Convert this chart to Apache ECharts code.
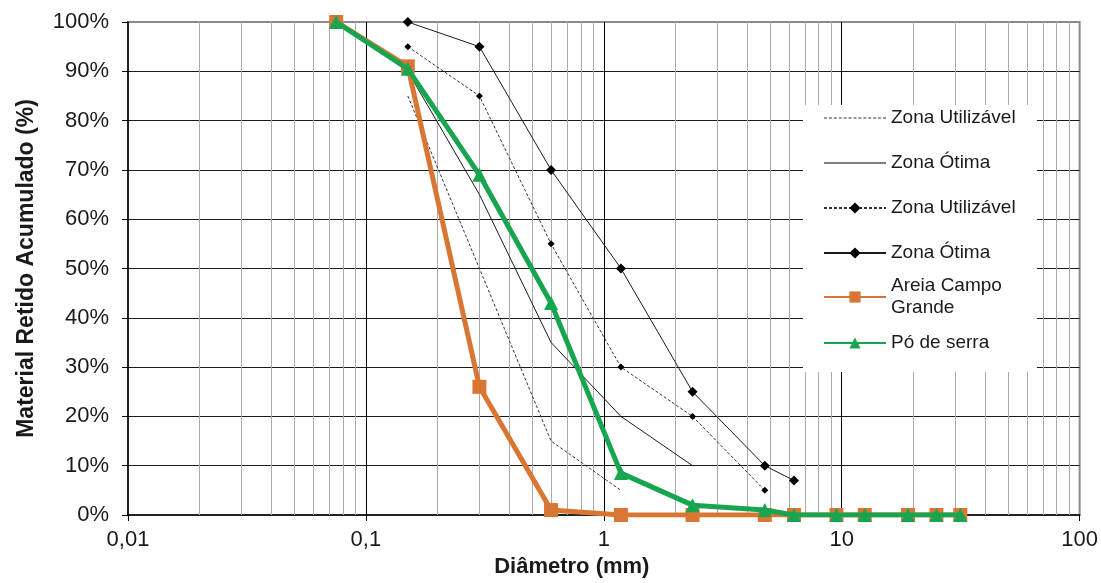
<!DOCTYPE html>
<html>
<head>
<meta charset="utf-8">
<script src="https://cdn.jsdelivr.net/npm/echarts@6/dist/echarts.min.js"></script>
<style>html,body{margin:0;padding:0;background:#fff;}#c{width:1101px;height:583px;}</style>
</head>
<body>
<div id="c"></div>
<script>
// ---- data ----
const sieves = [0.075, 0.15, 0.3, 0.6, 1.18, 2.36, 4.75, 6.3, 9.5, 12.5, 19, 25, 31.5];
const areiaCampoGrande = [100, 91, 26, 1, 0, 0, 0, 0, 0, 0, 0, 0, 0];
const poDeSerra = [100, 90.5, 69, 43, 8.5, 2, 1, 0, 0, 0, 0, 0, 0];

const zonaUtilInfSieves = [0.15, 0.3, 0.6, 1.18];
const zonaUtilInf = [85, 50, 15, 5];
const zonaOtimaInfSieves = [0.15, 0.3, 0.6, 1.18, 2.36];
const zonaOtimaInf = [90, 65, 35, 20, 10];
const zonaUtilSupSieves = [0.15, 0.3, 0.6, 1.18, 2.36, 4.75];
const zonaUtilSup = [95, 85, 55, 30, 20, 5];
const zonaOtimaSupSieves = [0.15, 0.3, 0.6, 1.18, 2.36, 4.75, 6.3];
const zonaOtimaSup = [100, 95, 70, 50, 25, 10, 7];

const xTickLabels = ['0,01', '0,1', '1', '10', '100'];
const seriesNames = ['Zona Utilizável', 'Zona Ótima', 'Zona Utilizável ', 'Zona Ótima ', 'Areia Campo Grande', 'Pó de serra'];

// ---- build ----
const pairs = (xs, ys) => xs.map((x, i) => [x, ys[i]]);
const minorLines = [];
[0.01, 0.1, 1, 10].forEach(d => { for (let k = 2; k <= 9; k++) minorLines.push({ xAxis: +(d * k).toPrecision(3) }); });

const FONT = 'Liberation Sans, Arial, sans-serif';
const dashColor = '#2a2f58';
let dashPath = 'path://';
for (let i = 0; i < 13; i++) dashPath += 'M' + (i * 5) + ',0h3v1h-3z';
const solidPath = 'path://M0,0h62v1h-62z';

const legendText = { fontFamily: FONT, fontSize: 19, color: '#1a1a1a', lineHeight: 22 };

const option = {
  animation: false,
  backgroundColor: '#fff',
  grid: { left: 128, right: 21, top: 22, bottom: 63, show: true, borderColor: '#8c8c8c', borderWidth: 2, backgroundColor: 'transparent' },
  xAxis: {
    type: 'log', logBase: 10, min: 0.01, max: 100,
    name: 'Diâmetro (mm)', nameLocation: 'middle', nameGap: 41,
    nameTextStyle: { fontFamily: FONT, fontSize: 22, fontWeight: 'bold', color: '#1a1a1a', padding: [0, 64, 0, 0] },
    axisLine: { lineStyle: { color: '#000', width: 1.5 } },
    axisTick: { show: true, length: 6, lineStyle: { color: '#000' } },
    minorTick: { show: false },
    axisLabel: { fontFamily: FONT, fontSize: 22, color: '#1a1a1a', margin: 14,
      formatter: v => xTickLabels[Math.round(Math.log10(v)) + 2] },
    splitLine: { show: true, showMinLine: false, showMaxLine: false, lineStyle: { color: '#000', width: 1 } }
  },
  yAxis: {
    type: 'value', min: 0, max: 100, interval: 10,
    name: 'Material Retido Acumulado (%)', nameLocation: 'middle', nameGap: 90,
    nameTextStyle: { fontFamily: FONT, fontSize: 23, fontWeight: 'bold', color: '#1a1a1a' },
    axisLine: { show: true, lineStyle: { color: '#000', width: 1.5 } },
    axisTick: { show: true, length: 6, lineStyle: { color: '#000' } },
    axisLabel: { fontFamily: FONT, fontSize: 22, color: '#1a1a1a', margin: 19, formatter: v => v + '%' },
    splitLine: { show: true, showMinLine: false, showMaxLine: false, lineStyle: { color: '#1a1a1a', width: 1 } }
  },
  legend: [
    {
      orient: 'vertical', left: 803, top: 105, padding: [2, 16, 108, 20],
      backgroundColor: '#fff', itemGap: 23, itemWidth: 62, itemHeight: 14, selectedMode: false,
      textStyle: legendText,
      data: [
        { name: seriesNames[0], icon: dashPath, itemStyle: { color: dashColor, borderWidth: 0 } },
        { name: seriesNames[1], icon: solidPath, itemStyle: { color: '#000', borderWidth: 0 } },
        seriesNames[2], seriesNames[3]
      ]
    },
    {
      orient: 'vertical', left: 803, top: 264, padding: [0, 0, 0, 20],
      itemWidth: 62, itemHeight: 14, selectedMode: false,
      textStyle: Object.assign({}, legendText, { padding: [22, 0, 0, 0] }),
      formatter: () => 'Areia Campo\nGrande',
      data: [seriesNames[4]]
    },
    {
      orient: 'vertical', left: 803, top: 332, padding: [0, 0, 0, 20],
      itemWidth: 62, itemHeight: 14, selectedMode: false,
      textStyle: legendText,
      data: [seriesNames[5]]
    }
  ],
  series: [
    {
      name: seriesNames[0], type: 'line', symbol: 'none', z: 2,
      data: pairs(zonaUtilInfSieves, zonaUtilInf),
      lineStyle: { color: dashColor, width: 1, type: [3, 2] }, itemStyle: { color: dashColor },
      markLine: {
        silent: true, z: 1, symbol: ['none', 'none'], label: { show: false },
        lineStyle: { color: '#ababab', width: 1, type: 'solid' }, emphasis: { disabled: true },
        data: minorLines
      }
    },
    {
      name: seriesNames[1], type: 'line', symbol: 'none', z: 2,
      data: pairs(zonaOtimaInfSieves, zonaOtimaInf),
      lineStyle: { color: '#1a1a1a', width: 1 }, itemStyle: { color: '#1a1a1a' }
    },
    {
      name: seriesNames[2], type: 'line', symbol: 'diamond', symbolSize: 7, z: 2,
      data: pairs(zonaUtilSupSieves, zonaUtilSup),
      lineStyle: { color: dashColor, width: 1, type: [3, 2] }, itemStyle: { color: '#000', borderWidth: 0 }
    },
    {
      name: seriesNames[3], type: 'line', symbol: 'diamond', symbolSize: 10, z: 2,
      data: pairs(zonaOtimaSupSieves, zonaOtimaSup),
      lineStyle: { color: '#1a1a1a', width: 1 }, itemStyle: { color: '#000', borderWidth: 0 }
    },
    {
      name: seriesNames[4], type: 'line', symbol: 'rect', symbolSize: 14, z: 3,
      data: pairs(sieves, areiaCampoGrande),
      lineStyle: { color: '#da7633', width: 5 }, itemStyle: { color: '#da7633', borderWidth: 0 }
    },
    {
      name: seriesNames[5], type: 'line', symbol: 'triangle', symbolSize: 14, z: 4,
      data: pairs(sieves, poDeSerra),
      lineStyle: { color: '#17a550', width: 5 }, itemStyle: { color: '#17a550', borderWidth: 0 }
    }
  ]
};

const chart = echarts.init(document.getElementById('c'), null, { renderer: 'canvas' });
chart.setOption(option);
</script>
</body>
</html>
